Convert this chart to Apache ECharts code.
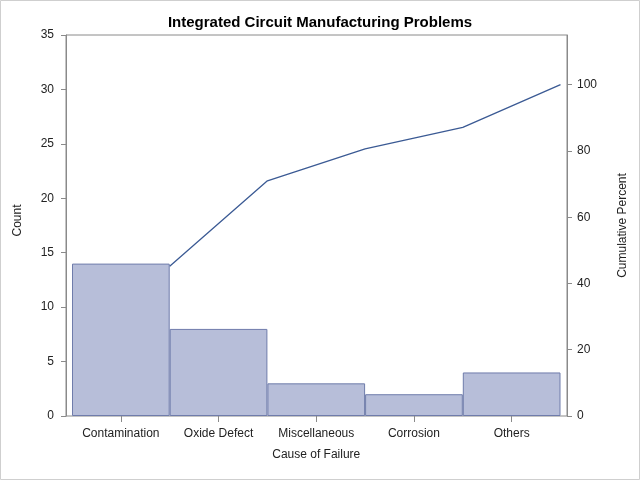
<!DOCTYPE html>
<html><head><meta charset="utf-8">
<script src="https://cdn.jsdelivr.net/npm/echarts@6/dist/echarts.min.js"></script>
<style>html,body{margin:0;padding:0;background:#fff}#c{width:640px;height:480px}</style>
</head><body><div id="c"></div>
<script>
const categories = ['Contamination', 'Oxide Defect', 'Miscellaneous', 'Corrosion', 'Others'];
const counts = [14, 8, 3, 2, 4];
const cumulativePercent = [45.2, 71.0, 80.6, 87.1, 100];
const cumulativeAt = [1, 2, 3, 4, 5]; // right edge of each bar
const percentTicks = [0, 20, 40, 60, 80, 100];

const FONT = 'Liberation Sans, Arial, Helvetica, sans-serif';
const AX = '#8a8a8a';
const TXT = '#222';

const chart = echarts.init(document.getElementById('c'), null, {renderer: 'canvas'});
chart.setOption({
  animation: false,
  backgroundColor: '#fff',
  textStyle: {fontFamily: FONT},
  title: {
    text: 'Integrated Circuit Manufacturing Problems',
    left: 'center', top: 10,
    textStyle: {fontFamily: FONT, fontSize: 15, fontWeight: 'bold', color: '#000'}
  },
  graphic: [{
    type: 'rect', silent: true, z: 100,
    shape: {x: 0.5, y: 0.5, width: 639, height: 479},
    style: {fill: 'none', stroke: '#cfcfcf', lineWidth: 1}
  }],
  grid: [
    {left: 66, right: 73, top: 35, bottom: 64, show: true, borderColor: AX, borderWidth: 1, backgroundColor: 'transparent'},
    {left: 72, right: 79.5, top: 35, bottom: 64}
  ],
  xAxis: [
    {gridIndex: 0, type: 'value', min: 0, max: 1, show: false},
    {gridIndex: 1, type: 'category', data: categories, boundaryGap: true,
     axisLine: {show: false},
     axisTick: {show: true, alignWithLabel: true, length: 6, lineStyle: {color: AX}},
     axisLabel: {interval: 0, margin: 12, color: TXT, fontSize: 12, fontFamily: FONT},
     name: 'Cause of Failure', nameLocation: 'middle', nameGap: 33,
     nameTextStyle: {fontSize: 12, color: TXT, fontFamily: FONT}},
    {gridIndex: 1, type: 'value', min: 0, max: 5, show: false}
  ],
  yAxis: [
    {gridIndex: 0, type: 'value', position: 'left', min: 0, max: 35, interval: 5,
     axisLine: {show: true, lineStyle: {color: AX}},
     axisTick: {show: true, length: 5, lineStyle: {color: AX}},
     axisLabel: {margin: 12, color: TXT, fontSize: 12, fontFamily: FONT},
     splitLine: {show: false},
     name: 'Count', nameLocation: 'middle', nameGap: 42, nameRotate: 90,
     nameTextStyle: {fontSize: 12, color: TXT, fontFamily: FONT, padding: [0, 0, 0, 10]}},
    {gridIndex: 0, type: 'value', position: 'right', min: 0, max: 115,
     axisLine: {show: true, lineStyle: {color: AX}},
     axisTick: {show: true, length: 5, lineStyle: {color: AX}, customValues: percentTicks},
     axisLabel: {margin: 10, color: TXT, fontSize: 12, fontFamily: FONT, customValues: percentTicks},
     splitLine: {show: false},
     name: 'Cumulative Percent', nameLocation: 'middle', nameGap: 50, nameRotate: 90,
     nameTextStyle: {fontSize: 12, color: TXT, fontFamily: FONT}},
    {gridIndex: 1, type: 'value', min: 0, max: 35, show: false},
    {gridIndex: 1, type: 'value', min: 0, max: 115, show: false}
  ],
  series: [
    {type: 'bar', xAxisIndex: 1, yAxisIndex: 2, data: counts, barWidth: '100%',
     itemStyle: {color: '#b7bed9', borderColor: '#6f7cab', borderWidth: 1}},
    {type: 'line', xAxisIndex: 2, yAxisIndex: 3,
     data: cumulativeAt.map((x, i) => [x, cumulativePercent[i]]),
     symbol: 'none', lineStyle: {color: '#3b5a94', width: 1.3}}
  ]
});
</script></body></html>
